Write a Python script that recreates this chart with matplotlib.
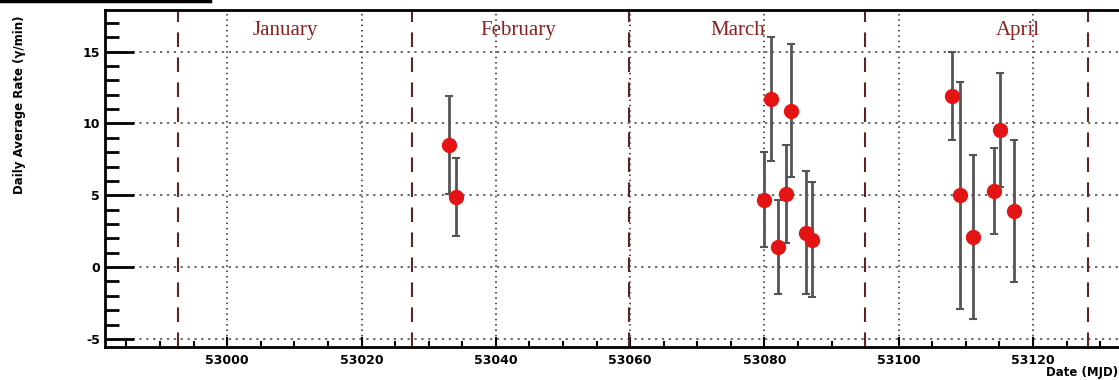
import matplotlib
matplotlib.use('Agg')
import matplotlib.pyplot as plt
from matplotlib.lines import Line2D
from matplotlib.ticker import MultipleLocator

plt.rcParams['axes.unicode_minus'] = False

# daily average rates (gamma/min) vs MJD
mjd = [53033.0, 53034.0,
       53080.0, 53081.0, 53082.0, 53083.2, 53084.0, 53086.2, 53087.1,
       53107.9, 53109.1, 53111.1, 53114.2, 53115.1, 53117.2]
rate = [8.5, 4.9,
        4.7, 11.7, 1.4, 5.1, 10.9, 2.4, 1.9,
        11.9, 5.0, 2.1, 5.3, 9.55, 3.9]
err = [3.4, 2.7,
       3.3, 4.3, 3.3, 3.4, 4.65, 4.3, 4.0,
       3.05, 7.9, 5.7, 3.0, 3.95, 4.95]

month_edges = [52992.7, 53027.5, 53059.8, 53095.0, 53128.2]
month_names = ['January', 'February', 'March', 'April']
month_label_x = [53008.6, 53043.3, 53076.1, 53117.8]

fig = plt.figure(figsize=(11.19, 3.80), dpi=100)
ax = fig.add_axes([105/1119, 33/380, 1 - 105/1119, 337/380])

ax.set_xlim(52981.8, 53132.8)
ax.set_ylim(-5.56, 17.9)

# grid
for y in [-5, 0, 5, 10, 15]:
    ax.axhline(y, color='#444444', lw=1.1, ls=(0, (1.5, 3)), zorder=1)
for x in range(53000, 53140, 20):
    ax.axvline(x, color='#222222', lw=1.1, ls=(0, (1, 2.5)), zorder=1)

# month boundaries
for x in month_edges:
    ax.axvline(x, color='#5e2424', lw=1.5, ls=(0, (7, 5)), zorder=2)
for x, name in zip(month_label_x, month_names):
    ax.text(x, 16.5, name, ha='center', va='center', color='#8b2020',
            fontsize=15, family='Liberation Serif', zorder=3)

ax.errorbar(mjd, rate, yerr=err, fmt='none', ecolor='#555555',
            elinewidth=2, capsize=3, capthick=1.5, zorder=4)
ax.plot(mjd, rate, 'o', color='#e41414', markersize=10, zorder=5)

ax.xaxis.set_major_locator(MultipleLocator(20))
ax.xaxis.set_minor_locator(MultipleLocator(5))
ax.yaxis.set_major_locator(MultipleLocator(5))
ax.yaxis.set_minor_locator(MultipleLocator(1))
ax.tick_params(axis='y', which='major', direction='in', length=21, width=2)
ax.tick_params(axis='y', which='minor', direction='in', length=10, width=2)
ax.tick_params(axis='x', which='major', direction='in', length=7, width=1.5,
               pad=5)
ax.tick_params(axis='x', which='minor', direction='in', length=4, width=1.5)
ax.tick_params(labelsize=9)
for lab in ax.get_xticklabels() + ax.get_yticklabels():
    lab.set_fontweight('bold')

for side in ['left', 'bottom', 'top']:
    ax.spines[side].set_linewidth(2)
ax.spines['right'].set_visible(False)

fig.text(20/1119, 1 - 105/380, 'Daily Average Rate (\u03b3/min)', rotation=90,
         ha='center', va='center', fontsize=8.5, fontweight='bold')
fig.text(0.999, 1/380, 'Date (MJD)', ha='right', va='bottom',
         fontsize=8.5, fontweight='bold')

# frame remnant at top left
fig.add_artist(Line2D([0, 210/1119], [0.997, 0.997], color='black', lw=2.5))

fig.savefig('out.png', dpi=100)
